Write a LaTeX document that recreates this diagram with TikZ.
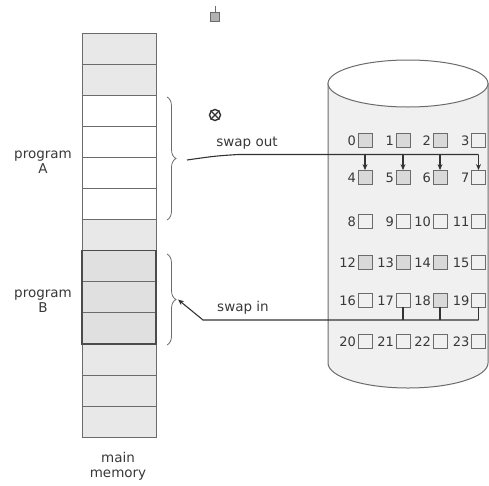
\documentclass[tikz,border=0pt]{standalone}
\usepackage{fontspec}
\setmainfont{DejaVu Sans}
\usetikzlibrary{decorations.pathreplacing,arrows.meta,calc}
\definecolor{shade}{gray}{0.91}
\definecolor{progb}{gray}{0.88}
\definecolor{cyl}{gray}{0.94}
\definecolor{boxg}{gray}{0.85}
\definecolor{ink}{gray}{0.22}
\definecolor{edge}{gray}{0.42}
\begin{document}
\begin{tikzpicture}[x=1pt,y=-1pt,
  memrow/.style={draw=edge,line width=1pt,minimum width=74pt,minimum height=31.1pt,inner sep=0pt,outer sep=0pt},
  lbl/.style={text=ink,font=\fontsize{13.5}{15}\selectfont,align=center,inner sep=0pt},
  num/.style={text=ink,font=\fontsize{13}{14}\selectfont,inner sep=0pt,anchor=east},
  blk/.style={draw=edge,line width=0.8pt,minimum size=14pt,inner sep=0pt},
  brc/.style={draw=edge,line width=0.8pt,decorate,decoration={brace,amplitude=9pt}},
  conn/.style={draw=black!80,line width=1.1pt},
  tip/.style={-{Stealth[length=6pt,width=5pt]}}
]
\useasboundingbox (0,0) rectangle (489,485);

% scan marks
\node[draw=edge,fill=gray!60,minimum size=9pt,inner sep=0pt] (mk1) at (215,17) {};
\draw[edge,line width=0.6pt] (mk1.north) -- ++(0,-6);
\node[circle,draw=black!80,line width=1.4pt,minimum size=11pt,inner sep=0pt] (mk2) at (215,115) {};
\draw[black!80,line width=1.1pt] (mk2.north west) -- (mk2.south east) (mk2.north east) -- (mk2.south west);

% main memory
\foreach \i/\f in {0/shade,1/shade,2/white,3/white,4/white,5/white,6/shade,7/progb,8/progb,9/progb,10/shade,11/shade,12/shade}{
  \node[memrow,fill=\f] (m\i) at (119,{33+31.1*\i+15.55}) {};
}
\draw[black!70,line width=1.1pt] (m7.north west) rectangle (m9.south east);

\node[lbl] (pa) at (43,162) {program\\A};
\node[lbl] (pb) at (43,301) {program\\B};
\node[lbl] (mm) at (118,466) {main\\memory};

% braces
\draw[brc] (167,97) -- (167,220);
\draw[brc] (167,254) -- (167,345);
\coordinate (Atip) at (178,158.5);
\coordinate (Btip) at (178,299.5);

% disk cylinder
\draw[edge,line width=1pt,fill=cyl] (328,83.5) -- (328,363) arc[start angle=180,end angle=0,x radius=80,y radius=25] -- (488,83.5) -- cycle;
\draw[edge,line width=1pt,fill=white] (408,83.5) ellipse[x radius=80,y radius=23.5];

% blocks
\foreach \r/\y in {0/140.5,1/177.5,2/221,3/262,4/300,5/341}{
  \foreach \c/\x in {0/365,1/403,2/440,3/478.5}{
    \pgfmathtruncatemacro{\n}{4*\r+\c}
    \node[blk] (b\n) at (\x,\y) {};
    \node[num] (n\n) at ($(b\n.west)+(-1.5,0.5)$) {\n};
  }
}
\foreach \n in {0,1,2,4,5,6,12,13,14,18}{\path[fill=boxg] (b\n.south west) rectangle (b\n.north east); \node[blk] at (b\n) {};}

% swap out
\coordinate (sobar) at (0,154.5);
\node[lbl] (sot) at (247,143) {swap out};
\draw[conn] (Atip)++(9,1.5) .. controls (215,156) .. (238,154.5) -- (b7.north |- sobar);
\foreach \n in {4,5,6,7}{
  \draw[conn,tip] (b\n.north |- sobar) -- (b\n.north);
}

% swap in
\coordinate (sibar) at (0,320);
\node[lbl] (sit) at (243,308) {swap in};
\foreach \n in {17,18,19}{
  \draw[conn] (b\n.south) -- (b\n.south |- sibar);
}
\draw[conn,tip] (b19.south |- sibar) -- (203,320) -- (Btip);
\end{tikzpicture}
\end{document}
